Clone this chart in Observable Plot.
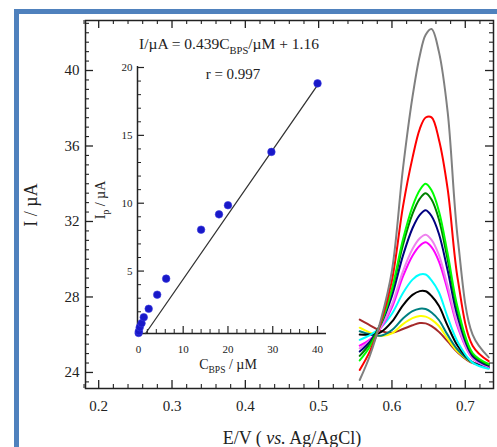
<!DOCTYPE html>
<html>
<head>
<meta charset="utf-8">
<script src="https://cdn.jsdelivr.net/npm/d3@7"></script>
<script src="https://cdn.jsdelivr.net/npm/@observablehq/plot@0.6"></script>
<style>
  body { margin: 0; background: #fff; }
  #wrap { position: relative; width: 497px; height: 447px; overflow: hidden; background: #fff; }
  #border { position: absolute; left: 14px; top: 9px; width: 600px; height: 600px; border: 5px solid #4f81bd; }
  #wrap svg { position: absolute; left: 0; top: 0; }
</style>
</head>
<body>
<div id="wrap"><div id="border"></div></div>
<script>
// ---------- main DPV curves: potential grid (V) and current (µA) per curve ----------
const potentials = [0.556, 0.570, 0.585, 0.600, 0.615, 0.628, 0.638, 0.646, 0.654, 0.664, 0.676, 0.690, 0.710, 0.732];
const iBrown   = [26.80, 26.50, 26.20, 26.10, 26.30, 26.50, 26.62, 26.60, 26.45, 26.15, 25.65, 25.05, 24.50, 24.45];
const iYellow  = [26.37, 26.11, 25.93, 26.07, 26.56, 26.88, 26.99, 26.96, 26.80, 26.46, 25.78, 25.09, 24.52, 24.30];
const iTeal    = [26.18, 26.02, 25.95, 26.25, 26.86, 27.25, 27.38, 27.36, 27.18, 26.78, 25.99, 25.19, 24.53, 24.30];
const iBlack   = [26.01, 26.00, 26.14, 26.69, 27.56, 28.11, 28.31, 28.30, 28.05, 27.53, 26.47, 25.39, 24.53, 24.25];
const iCyan    = [25.73, 25.98, 26.39, 27.11, 28.21, 28.92, 29.19, 29.19, 28.88, 28.25, 26.92, 25.59, 24.52, 24.20];
const iMagenta = [25.42, 25.74, 26.37, 27.45, 29.09, 30.19, 30.72, 30.90, 30.64, 29.89, 28.35, 26.37, 24.75, 24.30];
const iViolet  = [25.28, 25.68, 26.41, 27.61, 29.36, 30.54, 31.11, 31.30, 31.03, 30.23, 28.59, 26.49, 24.77, 24.30];
const iNavy    = [25.11, 25.64, 26.57, 28.06, 30.19, 31.64, 32.35, 32.60, 32.29, 31.35, 29.40, 26.89, 24.87, 24.35];
const iGreen   = [24.88, 25.53, 26.62, 28.33, 30.76, 32.40, 33.21, 33.50, 33.16, 32.12, 29.97, 27.19, 24.97, 24.40];
const iLime    = [24.64, 25.38, 26.60, 28.44, 31.04, 32.79, 33.67, 34.00, 33.65, 32.56, 30.29, 27.37, 25.03, 24.45];
const iRed     = [24.13, 25.13, 26.67, 28.88, 32.79, 35.37, 36.91, 37.51, 37.52, 36.35, 33.72, 28.88, 25.42, 24.60];
const iGray    = [23.60, 24.90, 26.80, 29.40, 34.80, 38.60, 40.80, 41.90, 42.20, 41.00, 37.80, 31.00, 26.00, 24.80];

const curveNames  = ["brown", "yellow", "teal", "black", "cyan", "magenta", "violet", "navy", "green", "lime", "red", "gray"];
const curveColors = ["#7b3f2a", "#e2e21c", "#2f6d86", "#1a1a1a", "#38dede", "#f03cf0", "#8b40d0", "#1c1ca0", "#12a812", "#5cf05c", "#e01b24", "#7c7c7c"];
const curveSeries = [iBrown, iYellow, iTeal, iBlack, iCyan, iMagenta, iViolet, iNavy, iGreen, iLime, iRed, iGray];

// main axes tick labels
const xMajor = [0.2, 0.3, 0.4, 0.5, 0.6, 0.7];
const yMajor = [24, 28, 32, 36, 40];

// ---------- inset calibration ----------
const concBPS     = [0.05, 0.1, 0.3, 0.7, 1.2, 2.3, 4.2, 6.2, 14.0, 18.0, 20.0, 29.7, 40.0];
const peakCurrent = [0.44, 0.57, 0.86, 1.16, 1.60, 2.22, 3.26, 4.44, 8.05, 9.18, 9.85, 13.78, 18.83];
const fitConc     = [1.6, 40];
const fitCurrent  = [0.4, 18.7];
const insetXMajor = [0, 10, 20, 30, 40];
const insetYMajor = [5, 10, 15, 20];

// ---------- build tables ----------
const curveRows = [];
curveSeries.forEach((arr, k) => arr.forEach((v, j) => curveRows.push({name: curveNames[k], E: potentials[j], I: v})));
const calRows = concBPS.map((c, j) => ({c, i: peakCurrent[j]}));
const fitRows = fitConc.map((c, j) => ({c, i: fitCurrent[j]}));

const xMinor = d3.range(9, 37).filter(k => k % 5 !== 0).map(k => +(k * 0.02).toFixed(2));
const yMinor = d3.range(47, 86).filter(k => k % 8 !== 0).map(k => k * 0.5);
const insetXMinor = d3.range(1, 21).filter(k => k % 5 !== 0).map(k => k * 2);
const insetYMinor = d3.range(1, 20).filter(k => k % 5 !== 0);

const W = 497, H = 447;
const serif = "'Liberation Serif', 'Times New Roman', serif";
const ink = "#222";

// ---------- main plot ----------
const mM = {top: 20, right: 4, bottom: 59, left: 85};
const fw = W - mM.left - mM.right, fh = H - mM.top - mM.bottom;
const main = Plot.plot({
  width: W, height: H,
  marginTop: mM.top, marginRight: mM.right, marginBottom: mM.bottom, marginLeft: mM.left,
  style: {background: "none", fontFamily: serif, fontSize: "16px", color: ink, overflow: "visible"},
  x: {domain: [0.182, 0.7385]},
  y: {domain: [23.15, 42.65]},
  color: {domain: curveNames, range: curveColors},
  marks: [
    Plot.line(curveRows, {x: "E", y: "I", z: "name", stroke: "name", strokeWidth: 2, curve: "catmull-rom"}),
    Plot.frame({stroke: ink, strokeWidth: 1.5}),
    // bottom & top ticks (inward)
    Plot.tickX(xMajor, {x: d => d, insetTop: fh - 8, stroke: ink, strokeWidth: 1.3}),
    Plot.tickX(xMinor, {x: d => d, insetTop: fh - 4, stroke: ink, strokeWidth: 1.1}),
    Plot.tickX(xMajor, {x: d => d, insetBottom: fh - 8, stroke: ink, strokeWidth: 1.3}),
    Plot.tickX(xMinor, {x: d => d, insetBottom: fh - 4, stroke: ink, strokeWidth: 1.1}),
    // left & right ticks (inward)
    Plot.tickY(yMajor, {y: d => d, insetRight: fw - 8, stroke: ink, strokeWidth: 1.3}),
    Plot.tickY(yMinor, {y: d => d, insetRight: fw - 4, stroke: ink, strokeWidth: 1.1}),
    Plot.tickY(yMajor, {y: d => d, insetLeft: fw - 8, stroke: ink, strokeWidth: 1.3}),
    Plot.tickY(yMinor, {y: d => d, insetLeft: fw - 4, stroke: ink, strokeWidth: 1.1}),
    Plot.axisX({ticks: xMajor, tickSize: 0, tickPadding: 12, tickFormat: d3.format(".1f"), label: null, fontSize: 15}),
    Plot.axisY({ticks: yMajor, tickSize: 0, tickPadding: 6, label: null, fontSize: 15})
  ]
});

// ---------- inset plot ----------
const iM = {top: 67, right: 171, bottom: 114, left: 137};
const ifw = W - iM.left - iM.right, ifh = H - iM.top - iM.bottom;
const insetXDomain = [-0.2, 42];
const insetYDomain = [0.4, 20];
const inset = Plot.plot({
  width: W, height: H,
  marginTop: iM.top, marginRight: iM.right, marginBottom: iM.bottom, marginLeft: iM.left,
  style: {background: "none", fontFamily: serif, fontSize: "11px", color: ink, overflow: "visible"},
  x: {domain: insetXDomain},
  y: {domain: insetYDomain},
  marks: [
    Plot.ruleX([insetXDomain[0]], {stroke: ink, strokeWidth: 1.5, insetTop: -1}),
    Plot.ruleY([insetYDomain[0]], {stroke: ink, strokeWidth: 1.5}),
    Plot.tickX(insetXMajor, {x: d => d, insetTop: ifh - 7, stroke: ink, strokeWidth: 1.2}),
    Plot.tickX(insetXMinor, {x: d => d, insetTop: ifh - 4, stroke: ink, strokeWidth: 1}),
    Plot.tickY(insetYMajor, {y: d => d, insetRight: ifw - 7, stroke: ink, strokeWidth: 1.2}),
    Plot.tickY(insetYMinor, {y: d => d, insetRight: ifw - 4, stroke: ink, strokeWidth: 1}),
    Plot.line(fitRows, {x: "c", y: "i", stroke: "#333", strokeWidth: 1.3}),
    Plot.dot(calRows, {x: "c", y: "i", r: 3.8, fill: "#1818c8", stroke: "#3a3ae0", strokeWidth: 0.6}),
    Plot.axisX({ticks: insetXMajor, tickSize: 0, tickPadding: 12, label: null, fontSize: 11}),
    Plot.axisY({ticks: insetYMajor, tickSize: 0, tickPadding: 5, label: null, fontSize: 11})
  ]
});

const wrap = document.getElementById("wrap");
wrap.appendChild(main);
wrap.appendChild(inset);

// ---------- titles (real text with italics / subscripts) ----------
function addText(svgEl, x, y, parts, size, rotate) {
  const t = d3.select(svgEl).append("text")
    .attr("x", x).attr("y", y)
    .attr("text-anchor", "middle")
    .attr("font-family", serif)
    .attr("font-size", size)
    .attr("fill", ink);
  if (rotate) t.attr("transform", `rotate(-90 ${x} ${y})`);
  const shift = Math.round(size * 0.3);
  let down = false;
  for (const p of parts) {
    const s = t.append("tspan").text(p.t);
    if (p.sub) { s.attr("font-size", size * 0.68).attr("dy", shift); down = true; }
    else if (down) { s.attr("dy", -shift); down = false; }
    if (p.it) s.attr("font-style", "italic");
  }
}

addText(main, mM.left + fw / 2 + 3, 444, [{t: "E/V ( "}, {t: "vs.", it: true}, {t: " Ag/AgCl)"}], 18);
addText(main, 37, 205, [{t: "I / µA"}], 18, true);

addText(inset, 229, 49, [{t: "I/µA = 0.439C"}, {t: "BPS", sub: true}, {t: "/µM + 1.16"}], 15.5);
addText(inset, 233, 79, [{t: "r = 0.997"}], 15);
addText(inset, 228, 369, [{t: "C"}, {t: "BPS", sub: true}, {t: " / µM"}], 14);
addText(inset, 105, 200, [{t: "I"}, {t: "p", sub: true}, {t: " / µA"}], 14, true);
</script>
</body>
</html>
